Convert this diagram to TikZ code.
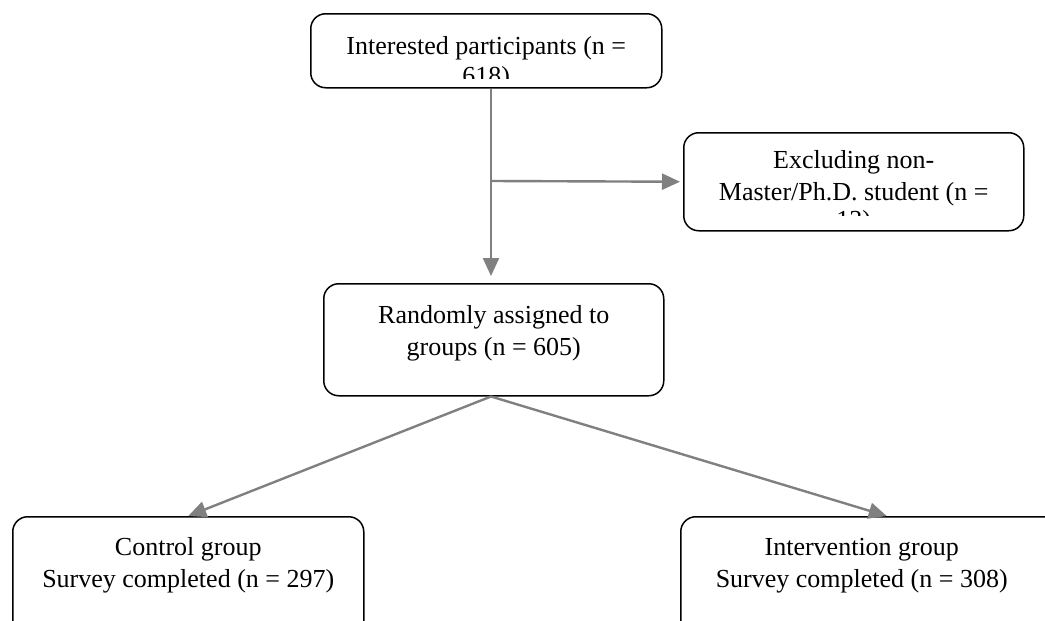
\documentclass[tikz,border=0pt]{standalone}
\usepackage{fontspec}
\setmainfont{Liberation Serif}
\usetikzlibrary{arrows.meta}

\definecolor{flowgray}{RGB}{128,128,128}
\tikzset{
  stage/.style={draw, rounded corners=15pt, line width=1.5pt, inner sep=0pt, anchor=north west},
  stagetext/.style={align=center, inner sep=0pt, anchor=base, font=\fontsize{26}{32}\selectfont},
  flow/.style={draw=flowgray, line width=2.4pt, -{Triangle[length=18pt,width=16pt]}},
}

\begin{document}
\begin{tikzpicture}[x=1pt,y=-1pt]
  \useasboundingbox (0,0) rectangle (1045,621);
  \clip (0,0) rectangle (1045,621);

  % boxes (text is cut off near the frame)
  \node[stage, minimum width=351pt, minimum height=74pt,
    path picture={\clip (path picture bounding box.north west) rectangle ([yshift=9pt]path picture bounding box.south east);
      \node[stagetext] (interest text) at ([yshift=-71pt]path picture bounding box.north)
      {Interested participants (n =\\[-2pt]618)};}] (interest) at (310,13) {};
  \node[stage, minimum width=340pt, minimum height=98pt,
    path picture={\clip (path picture bounding box.north west) rectangle ([yshift=15pt]path picture bounding box.south east);
      \node[stagetext] (exclude text) at ([yshift=-96pt]path picture bounding box.north)
      {Excluding non-\\Master/Ph.D. student (n =\\[-4pt]13)};}] (exclude) at (683,132) {};
  \node[stage, minimum width=340pt, minimum height=112pt,
    path picture={\node[stagetext] (random text) at ([yshift=-72pt]path picture bounding box.north)
      {Randomly assigned to\\groups (n = 605)};}] (random) at (323,283) {};
  \node[stage, minimum width=351pt, minimum height=130pt,
    path picture={\node[stagetext] (control text) at ([yshift=-71pt]path picture bounding box.north)
      {Control group\\Survey completed (n = 297)};}] (control) at (12,516) {};
  \node[stage, minimum width=412pt, minimum height=130pt,
    path picture={\node[stagetext] (interv text) at ([xshift=-25pt,yshift=-71pt]path picture bounding box.north)
      {Intervention group\\Survey completed (n = 308)};}] (interv) at (680,516) {};

  % arrows
  \coordinate (split) at (491,181);
  \draw[flow, shorten >=7pt] (split |- interest.south) -- (split |- random.north);
  \draw[flow, shorten >=3pt] (split) -- (exclude.west);
  \draw[flow] (split |- random.south) -- (control.north);
  \draw[flow] (split |- random.south) -- (interv.north);
\end{tikzpicture}
\end{document}
